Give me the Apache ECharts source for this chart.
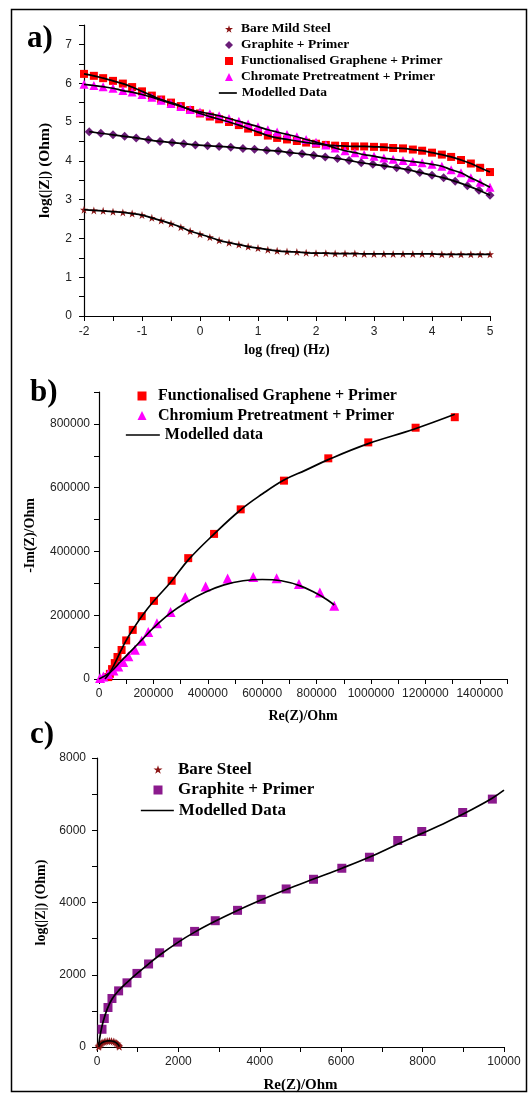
<!DOCTYPE html>
<html><head><meta charset="utf-8">
<script src="https://cdn.jsdelivr.net/npm/echarts@6/dist/echarts.min.js"></script>
<style>html,body{margin:0;padding:0;background:#fff}#c{width:529px;height:1096px}</style>
</head><body><div id="c"></div>
<script>
// ---------- Panel a: Bode |Z| ----------
const freq6 = [-2,-1.83,-1.67,-1.5,-1.33,-1.17,-1,-0.83,-0.67,-0.5,-0.33,-0.17,0,0.17,0.33,0.5,0.67,0.83,1,1.17,1.33,1.5,1.67,1.83,2,2.17,2.33,2.5,2.67,2.83,3,3.17,3.33,3.5,3.67,3.83,4,4.17,4.33,4.5,4.67,4.83,5];
const bareMildSteel = [2.74,2.72,2.71,2.69,2.67,2.64,2.60,2.53,2.46,2.38,2.29,2.19,2.11,2.03,1.95,1.89,1.84,1.79,1.75,1.71,1.68,1.66,1.65,1.63,1.62,1.62,1.61,1.61,1.61,1.60,1.60,1.60,1.60,1.60,1.60,1.60,1.60,1.59,1.59,1.59,1.59,1.59,1.59];
const functionalisedGraphene = [6.24,6.19,6.13,6.06,5.99,5.90,5.79,5.68,5.58,5.50,5.41,5.31,5.22,5.14,5.07,5.00,4.92,4.83,4.74,4.65,4.59,4.55,4.51,4.47,4.44,4.41,4.39,4.38,4.37,4.37,4.36,4.35,4.33,4.32,4.29,4.26,4.21,4.16,4.10,4.02,3.93,3.82,3.71];
const chromatePretreatment = [5.97,5.94,5.91,5.87,5.81,5.77,5.71,5.64,5.56,5.48,5.40,5.32,5.26,5.21,5.16,5.09,5.02,4.95,4.88,4.80,4.74,4.68,4.62,4.55,4.48,4.41,4.33,4.26,4.21,4.16,4.12,4.07,4.04,4.01,3.98,3.95,3.91,3.86,3.77,3.69,3.56,3.45,3.32];
const graphiteFreq = [-1.91,-1.71,-1.50,-1.30,-1.10,-0.89,-0.69,-0.48,-0.28,-0.08,0.13,0.33,0.53,0.74,0.94,1.15,1.35,1.55,1.76,1.96,2.16,2.37,2.57,2.78,2.98,3.18,3.39,3.59,3.79,4.00,4.20,4.40,4.61,4.81,5.00];
const graphitePrimer = [4.75,4.71,4.67,4.63,4.59,4.54,4.50,4.47,4.44,4.41,4.39,4.37,4.35,4.32,4.30,4.27,4.25,4.21,4.18,4.14,4.10,4.06,4.01,3.95,3.91,3.87,3.82,3.77,3.70,3.63,3.56,3.47,3.36,3.24,3.11];

// ---------- Panel b: Nyquist [Re, -Im] ----------
const grapheneNyquist = [[34000,6000],[40000,16000],[48000,31000],[58000,50000],[68000,69000],[83000,91000],[100000,121000],[124000,154000],[157000,197000],[202000,245000],[267000,308000],[328000,379000],[423000,455000],[521000,532000],[680000,622000],[843000,692000],[990000,742000],[1164000,788000],[1308000,821000]];
const chromiumNyquist = [[4000,3000],[16000,8000],[34000,16000],[53000,27000],[71000,39000],[89000,53000],[108000,71000],[132000,92000],[157000,120000],[181000,147000],[213000,175000],[263000,210000],[317000,256000],[392000,290000],[473000,315000],[567000,320000],[653000,316000],[735000,298000],[812000,271000],[865000,230000]];
const grapheneModelB = [[22000,0],[40000,20000],[60000,52000],[80000,88000],[100000,121000],[125000,156000],[160000,200000],[200000,243000],[265000,305000],[330000,375000],[420000,452000],[520000,530000],[600000,580000],[680000,624000],[760000,655000],[843000,688000],[990000,738000],[1160000,784000],[1308000,830000]];
const chromiumModelB = [[0,0],[40000,20000],[80000,55000],[120000,90000],[160000,125000],[200000,160000],[260000,205000],[320000,240000],[390000,272000],[460000,295000],[530000,308000],[600000,312000],[670000,308000],[740000,292000],[800000,268000],[840000,248000],[865000,232000]];

// ---------- Panel c: Nyquist [Re, -Im] ----------
const bareSteelNyquist = [[40,5],[45,20],[55,40],[70,65],[90,90],[115,112],[145,132],[180,148],[220,160],[265,167],[310,170],[355,166],[400,155],[440,137],[475,114],[505,88],[525,60],[540,32],[548,10]];
const graphiteNyquist = [[123,491],[179,788],[270,1093],[368,1343],[531,1554],[737,1776],[982,2037],[1267,2298],[1538,2608],[1980,2904],[2398,3200],[2905,3496],[3453,3783],[4034,4088],[4648,4375],[5319,4643],[6015,4948],[6694,5253],[7389,5716],[7979,5965],[8985,6492],[9714,6862]];
const graphiteModelC = [[40,50],[90,400],[150,700],[250,1050],[370,1330],[530,1560],[740,1790],[980,2030],[1270,2300],[1560,2560],[1980,2890],[2400,3180],[2900,3480],[3450,3780],[4030,4070],[4650,4360],[5320,4650],[6020,4950],[6700,5260],[7400,5620],[8000,5920],[8600,6230],[9200,6570],[9700,6880],[10000,7110]];

const SERIF = '"Liberation Serif","Times New Roman",serif';
const SANS = '"Liberation Sans",Arial,sans-serif';
const STAR = 'path://M50,0L61.2,34.5L97.6,34.5L68.2,55.9L79.4,90.5L50,69.1L20.6,90.5L31.8,55.9L2.4,34.5L38.8,34.5Z';

function pair(xs, ys){ return xs.map((x,i)=>[x, ys[i]]); }

function axis(gi, o){
  return Object.assign({
    type:'value', gridIndex:gi, splitLine:{show:false},
    axisLine:{show:true, onZero:false, lineStyle:{color:'#000', width:1.2}},
    axisTick:{show:true, inside:false, length:5, lineStyle:{color:'#000', width:1}},
    axisLabel:{color:'#222', fontFamily:SANS, fontSize:12},
    nameLocation:'middle',
    nameTextStyle:{fontFamily:SERIF, fontWeight:'bold', color:'#000', fontSize:14}
  }, o);
}
const intFmt = v => (Math.abs(v - Math.round(v)) < 1e-9 ? String(Math.round(v)) : '');

const chart = echarts.init(document.getElementById('c'));
const line = (name, data, xi, yi) => ({
  name, type:'line', data, xAxisIndex:xi, yAxisIndex:yi, smooth:0.4,
  symbol:'none', showSymbol:false, z:5,
  lineStyle:{color:'#000', width:1.7}, itemStyle:{color:'#000'}
});
const scat = (name, data, xi, yi, symbol, size, color) => ({
  name, type:'scatter', data, xAxisIndex:xi, yAxisIndex:yi, symbol, symbolSize:size, z:3,
  itemStyle:{color, opacity:1}
});
const ln = name => ({name, itemStyle:{opacity:0, color:'rgba(0,0,0,0)', borderWidth:0}, lineStyle:{color:'#000', width:1.7}});
function legendText(size, padLeft){
  return {fontFamily:SERIF, fontWeight:'bold', fontSize:size, color:'#000', padding:[0,0,0,padLeft]};
}
const legendBase = {orient:'vertical', selectedMode:false};

chart.setOption({
  animation:false,
  backgroundColor:'#fff',
  grid:[
    {left:84, right:39, top:25, bottom:780},
    {left:99, right:22, top:392, bottom:417},
    {left:97, right:25, top:758, bottom:49}
  ],
  xAxis:[
    axis(0,{min:-2, max:5, interval:0.5, name:'log (freq) (Hz)', nameGap:27,
      axisLabel:{color:'#222', fontFamily:SANS, fontSize:12, margin:10, formatter:intFmt}}),
    axis(1,{min:0, max:1500000, interval:100000, name:'Re(Z)/Ohm', nameGap:30,
      axisLabel:{color:'#222', fontFamily:SANS, fontSize:12, margin:9, formatter:v => (v % 200000 === 0 ? String(v) : '')}}),
    axis(2,{min:0, max:10000, interval:1000, name:'Re(Z)/Ohm', nameGap:31,
      nameTextStyle:{fontFamily:SERIF, fontWeight:'bold', color:'#000', fontSize:15},
      axisLabel:{color:'#222', fontFamily:SANS, fontSize:12, margin:9, formatter:v => (v % 2000 === 0 ? String(v) : '')}})
  ],
  yAxis:[
    axis(0,{min:0, max:7.5, interval:0.5, name:'log(|Z|) (Ohm)', nameGap:31,
      nameTextStyle:{fontFamily:SERIF, fontWeight:'bold', color:'#000', fontSize:15.5},
      axisLabel:{color:'#222', fontFamily:SANS, fontSize:12, margin:12, formatter:intFmt}}),
    axis(1,{min:0, max:900000, interval:100000, name:'-Im(Z)/Ohm', nameGap:62,
      axisLabel:{color:'#222', fontFamily:SANS, fontSize:12, margin:9, formatter:v => (v % 200000 === 0 ? String(v) : '')}}),
    axis(2,{min:0, max:8000, interval:1000, name:'log(|Z|) (Ohm)', nameGap:47,
      axisLabel:{color:'#222', fontFamily:SANS, fontSize:12, margin:11, formatter:v => (v % 2000 === 0 ? String(v) : '')}})
  ],
  legend:[
    // panel a
    Object.assign({}, legendBase, {left:220, top:17, itemWidth:8, itemHeight:8, itemGap:2,
      data:['Bare Mild Steel','Graphite + Primer','Functionalised Graphene + Primer','Chromate Pretreatment + Primer'],
      textStyle:legendText(13.5, 3)}),
    Object.assign({}, legendBase, {left:213, top:81, itemWidth:18, itemHeight:8, itemGap:2,
      data:[ln('Modelled Data')], textStyle:legendText(13.5, 0)}),
    // panel b
    Object.assign({}, legendBase, {left:132.5, top:383, itemWidth:9, itemHeight:9, itemGap:3.5,
      data:['Functionalised Graphene + Primer ','Chromium Pretreatment + Primer'],
      textStyle:legendText(16, 6.5)}),
    Object.assign({}, legendBase, {left:120, top:422, itemWidth:34, itemHeight:9, itemGap:3.5,
      data:[ln('Modelled data')], textStyle:legendText(16, 0)}),
    // panel c
    Object.assign({}, legendBase, {left:148.5, top:756, itemWidth:9, itemHeight:9, itemGap:3.5,
      data:['Bare Steel','Graphite + Primer '], textStyle:legendText(17, 10.5)}),
    Object.assign({}, legendBase, {left:135, top:797, itemWidth:33, itemHeight:9, itemGap:3.5,
      data:[ln('Modelled Data ')], textStyle:legendText(17, 0)})
  ],
  graphic:[
    {type:'rect', shape:{x:11.5, y:9.5, width:515, height:1082}, style:{fill:'none', stroke:'#000', lineWidth:1.5}, silent:true},
    {type:'text', left:27, top:23, style:{text:'a)', font:'bold 31px '+SERIF, fill:'#000'}},
    {type:'text', left:30, top:377, style:{text:'b)', font:'bold 31px '+SERIF, fill:'#000'}},
    {type:'text', left:30, top:719, style:{text:'c)', font:'bold 31px '+SERIF, fill:'#000'}}
  ],
  series:[
    scat('Bare Mild Steel', pair(freq6, bareMildSteel), 0, 0, STAR, 8, '#8b1414'),
    scat('Graphite + Primer', pair(graphiteFreq, graphitePrimer), 0, 0, 'diamond', 9, '#6a1d78'),
    scat('Functionalised Graphene + Primer', pair(freq6, functionalisedGraphene), 0, 0, 'rect', 8, '#ff0000'),
    scat('Chromate Pretreatment + Primer', pair(freq6, chromatePretreatment), 0, 0, 'triangle', 9, '#ff00ff'),
    line('Modelled Data', pair(freq6, bareMildSteel), 0, 0),
    line('Modelled Data', pair(graphiteFreq, graphitePrimer), 0, 0),
    line('Modelled Data', pair(freq6, functionalisedGraphene), 0, 0),
    line('Modelled Data', pair(freq6, chromatePretreatment), 0, 0),

    scat('Functionalised Graphene + Primer ', grapheneNyquist, 1, 1, 'rect', 8, '#ff0000'),
    scat('Chromium Pretreatment + Primer', chromiumNyquist, 1, 1, 'triangle', 10, '#ff00ff'),
    line('Modelled data', grapheneModelB, 1, 1),
    line('Modelled data', chromiumModelB, 1, 1),

    scat('Bare Steel', bareSteelNyquist, 2, 2, STAR, 8, '#8b1414'),
    scat('Graphite + Primer ', graphiteNyquist, 2, 2, 'rect', 9, '#8b1a8d'),
    line('Modelled Data ', bareSteelNyquist, 2, 2),
    line('Modelled Data ', graphiteModelC, 2, 2)
  ]
});
</script></body></html>
